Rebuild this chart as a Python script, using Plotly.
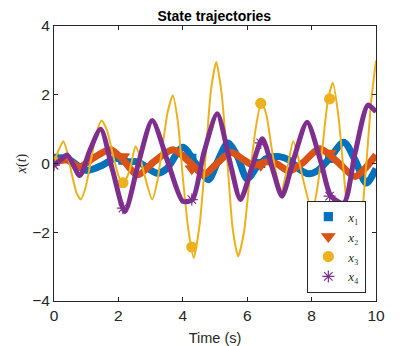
import plotly.graph_objects as go

# values (time in s)
t1 = [0.0, 0.4, 1.0, 1.5, 1.9, 2.3, 2.6, 3.2, 3.5, 4.0, 4.4, 4.8, 5.1, 5.4, 5.7,
      6.0, 6.3, 6.6, 7.0, 7.3, 7.6, 7.9, 8.2, 8.6, 9.0, 9.35, 9.7, 10.0]
x1 = [0.15, 0.15, -0.2, -0.05, 0.15, 0.05, 0.05, -0.28, -0.15, 0.47, 0.0, -0.47, 0.1, 0.6, 0.2,
      -0.45, -0.1, 0.15, 0.2, 0.1, -0.15, -0.3, -0.2, 0.2, 0.62, 0.1, -0.57, -0.15]

t2 = [0.0, 0.4, 0.8, 1.2, 1.75, 2.1, 2.6, 3.1, 3.7, 4.2, 4.65, 5.0, 5.5, 5.9, 6.2,
      6.6, 6.9, 7.3, 7.7, 8.25, 8.8, 9.35, 9.7, 10.0]
x2 = [0.05, 0.1, -0.1, 0.15, 0.4, 0.15, -0.33, 0.05, 0.4, 0.05, -0.33, -0.05, 0.32, 0.1, -0.05,
      0.05, 0.0, -0.22, 0.0, 0.43, 0.05, -0.38, -0.1, 0.25]

t3 = [0.0, 0.15, 0.29, 0.42, 0.55, 0.7, 0.83, 0.98, 1.15, 1.32, 1.48, 1.65, 1.82, 2.0, 2.14,
      2.35, 2.53, 2.67, 2.8, 3.05, 3.2, 3.37, 3.53, 3.69, 3.85, 4.0, 4.17, 4.34, 4.52, 4.7,
      4.87, 5.04, 5.21, 5.38, 5.55, 5.72, 5.9, 6.08, 6.26, 6.44, 6.6, 6.75, 6.9, 7.06, 7.25,
      7.43, 7.58, 7.72, 8.02, 8.18, 8.34, 8.5, 8.66, 8.83, 9.0, 9.17, 9.35, 9.52, 9.7, 9.85, 10.0]
x3 = [0.05, 0.4, 0.65, 0.3, -0.3, -0.85, -1.05, -0.7, 0.1, 0.9, 1.25, 0.95, 0.3, -0.35, -0.6,
      -0.2, 0.5, 0.2, -0.3, -1.05, -0.55, 0.5, 1.5, 1.98, 1.2, -0.4, -1.9, -2.75, -1.8, 0.1,
      2.1, 2.95, 2.0, 0.1, -1.9, -2.7, -2.0, -0.4, 1.0, 1.8, 1.4, 0.5, -0.3, -0.8, -0.1,
      0.65, 0.2, -0.4, -1.4, -0.7, 0.5, 1.8, 2.35, 1.4, -0.3, -2.0, -3.0, -2.0, 0.0, 1.8, 3.0]

t4 = [0.0, 0.2, 0.41, 0.8, 1.1, 1.45, 1.82, 2.2, 2.62, 3.05, 3.55, 4.0, 4.3, 4.65, 5.07,
      5.45, 5.79, 6.15, 6.47, 6.8, 7.08, 7.45, 7.86, 8.3, 8.6, 9.0, 9.35, 9.75, 10.0]
x4 = [-0.05, 0.1, 0.25, -0.35, 0.35, 1.0, -0.2, -1.4, 0.0, 1.25, 0.0, -1.1, -1.05, 0.3, 1.45,
      0.1, -1.05, -0.1, 0.72, -0.2, -0.95, 0.15, 1.2, 0.0, -0.95, -1.15, 0.3, 1.7, 1.5]

# marker positions (every ~2.14 s)
t_mark = [0.0, 2.14, 4.28, 6.42, 8.56]
x1_mark = [0.15, 0.1, 0.15, 0.0, 0.15]
x2_mark = [0.05, 0.2, -0.15, -0.05, 0.3]
x3_mark = [0.05, -0.56, -2.43, 1.75, 1.88]
x4_mark = [-0.05, -1.3, -1.05, 0.6, -0.95]

names = ['<i>x</i>₁', '<i>x</i>₂', '<i>x</i>₃', '<i>x</i>₄']
colors = ['#0072BD', '#D95319', '#EDB120', '#7E2F8E']
widths = [7, 7, 2, 5]
smooth = [0.8, 0.8, 0.6, 0.7]
symbols = ['square', 'triangle-down', 'circle', 'asterisk-open']
msizes = [8, 11, 10, 10]

series = [(t1, x1, x1_mark), (t2, x2, x2_mark), (t3, x3, x3_mark), (t4, x4, x4_mark)]

fig = go.Figure()
for k, (tt, xx, mm) in enumerate(series):
    fig.add_trace(go.Scatter(x=tt, y=xx, mode='lines',
                             line=dict(color=colors[k], width=widths[k], shape='spline', smoothing=smooth[k]),
                             showlegend=False, hoverinfo='none'))
    fig.add_trace(go.Scatter(x=t_mark, y=mm, mode='markers', name=names[k],
                             marker=dict(symbol=symbols[k], size=msizes[k], color=colors[k],
                                         line=dict(color=colors[k], width=1.2))))

axis = dict(showline=True, linecolor='#262626', linewidth=1, mirror='ticks',
            ticks='inside', ticklen=4, tickcolor='#262626', showgrid=False, zeroline=False,
            automargin=False,
            tickfont=dict(family='Liberation Sans, Arial, sans-serif', size=15.5, color='#262626'))

# the page body adds 8px, so the figure is a bit smaller than the window
fig.update_layout(
    width=407, height=338,
    title=dict(text='<b>State trajectories</b>', x=0.507, xanchor='center', y=0.99, yanchor='top',
               font=dict(family='Liberation Sans, Arial, sans-serif', size=14, color='black')),
    xaxis=dict(axis, range=[0, 10], tickvals=[0, 2, 4, 6, 8, 10],
               title=dict(text='Time (s)',
                          font=dict(family='Liberation Sans, Arial, sans-serif', size=14.5, color='#262626'))),
    yaxis=dict(axis, range=[-4, 4], tickvals=[-4, -2, 0, 2, 4],
               title=dict(text='<i>x</i>(<i>t</i>)', standoff=2,
                          font=dict(family='Liberation Serif, DejaVu Serif, serif', size=14, color='#262626'))),
    legend=dict(x=0.97, y=0.03, xanchor='right', yanchor='bottom',
                bgcolor='white', bordercolor='#262626', borderwidth=1,
                font=dict(family='Liberation Serif, DejaVu Serif, serif', size=13, color='#262626'),
                tracegroupgap=0),
    margin=dict(l=45.5, r=39.3, t=18, b=45),
    plot_bgcolor='white', paper_bgcolor='white',
)

fig.write_html("out.html")
